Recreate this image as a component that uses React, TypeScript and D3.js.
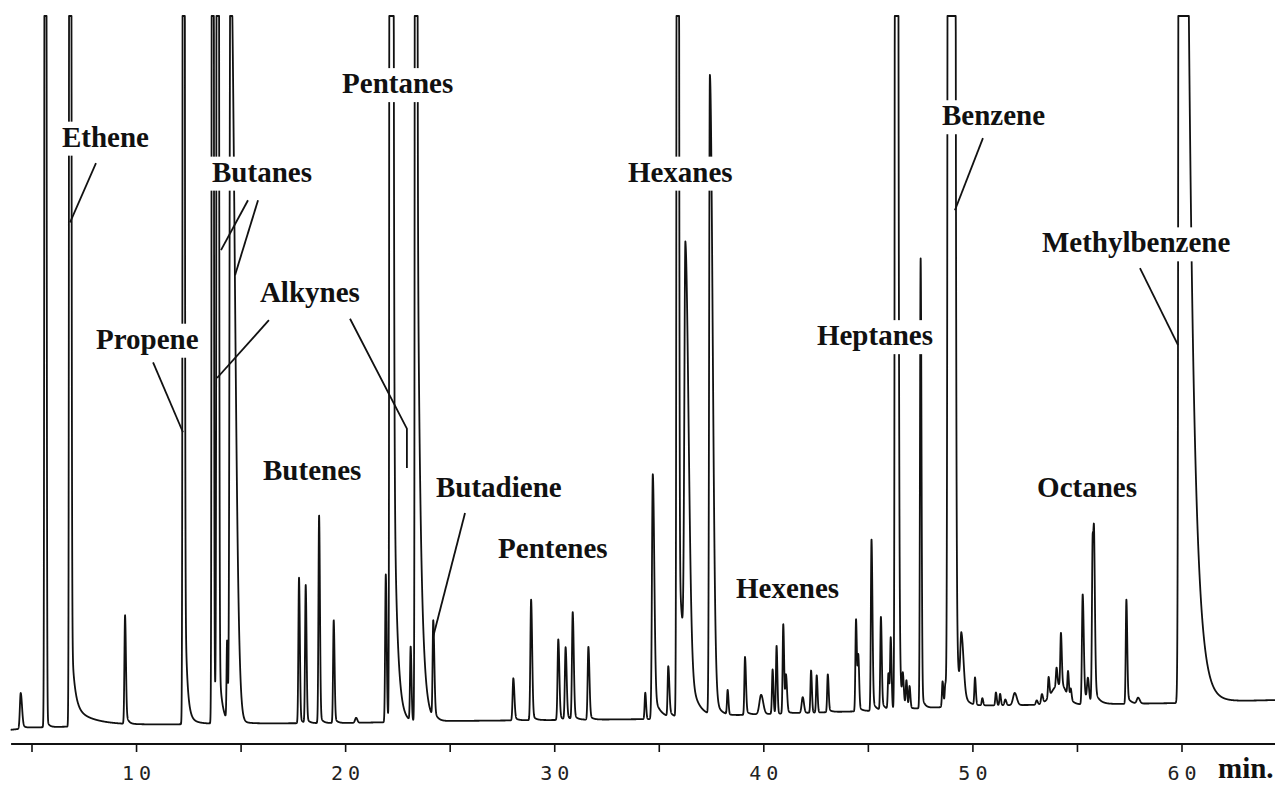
import * as d3 from "d3"
import React, { useEffect, useRef } from "react"

// One peak = [retention time (min), height, front sigma, back sigma, tail amp, tail decay, 2nd tail amp, 2nd tail decay]
// Heights are in detector units above the drifting baseline; 100 is where the recorder clips.
type Peak = number[]

const earlyPeaks: Peak[] = [
    [4.46, 5.0, 0.04, 0.06, 0.8, 0.15],
    [5.64, 400, 0.03, 0.035, 2, 0.1],
    [6.82, 400, 0.03, 0.04, 15, 0.15, 3, 1.0],      // ethene
    [9.45, 15.2, 0.03, 0.04, 2.5, 0.1],
    [12.25, 400, 0.03, 0.035, 33, 0.1, 1.5, 0.4],   // propene
]
const butanePeaks: Peak[] = [
    [13.64, 400, 0.03, 0.035, 10, 0.12],
    [13.88, 400, 0.035, 0.04, 12, 0.15],
    [14.33, 11, 0.025, 0.03],
    [14.49, 110, 0.04, 0.2, 2, 0.3],
]
const butenePeaks: Peak[] = [
    [17.77, 20.4, 0.03, 0.04, 1, 0.12],
    [18.09, 19.3, 0.03, 0.04, 1, 0.12],
    [18.73, 29.1, 0.03, 0.04, 1.5, 0.12],
    [19.43, 14.4, 0.03, 0.04, 1, 0.12],
    [20.5, 0.7, 0.05, 0.06],
]
const pentanePeaks: Peak[] = [
    [21.92, 20.7, 0.03, 0.04, 1.5, 0.1],
    [22.15, 1000, 0.03, 0.065, 100, 0.16],
    [23.11, 10.3, 0.03, 0.04],
    [23.36, 600, 0.03, 0.035, 120, 0.16],
    [24.19, 13.5, 0.03, 0.05, 1.5, 0.15],           // butadiene
]
const pentenePeaks: Peak[] = [
    [28.02, 5.9, 0.035, 0.05, 0.6, 0.15],
    [28.87, 16.9, 0.035, 0.05, 1, 0.15],
    [30.17, 11.3, 0.035, 0.05, 0.8, 0.15],
    [30.52, 10.1, 0.035, 0.05, 0.8, 0.15],
    [30.86, 15.0, 0.035, 0.05, 1, 0.15],
    [31.61, 10.2, 0.035, 0.05, 0.8, 0.15],
]
const hexanePeaks: Peak[] = [
    [34.33, 3.7, 0.03, 0.04],
    [34.69, 34.3, 0.04, 0.07, 4, 0.3],
    [35.43, 7, 0.03, 0.05, 1, 0.2],
    [35.88, 400, 0.035, 0.04, 25, 0.35],
    [36.25, 58, 0.05, 0.15, 4, 0.3],
    [37.42, 89.5, 0.035, 0.13, 6, 0.25],
    [38.27, 3.4, 0.03, 0.04],
]
const hexenePeaks: Peak[] = [
    [39.1, 8.1, 0.03, 0.045, 0.8, 0.15],
    [39.87, 2.7, 0.08, 0.1],
    [40.42, 6.2, 0.03, 0.04],
    [40.61, 9.5, 0.03, 0.04],
    [40.93, 12.5, 0.03, 0.04, 1, 0.15],
    [41.06, 5, 0.03, 0.05],
    [41.86, 2.2, 0.05, 0.06],
    [42.26, 5.9, 0.03, 0.04],
    [42.53, 5.2, 0.03, 0.04],
    [43.06, 5.3, 0.03, 0.04, 0.5, 0.15],
]
const heptanePeaks: Peak[] = [
    [44.41, 12.9, 0.03, 0.04, 1.5, 0.15],
    [44.52, 7, 0.03, 0.04],
    [45.15, 24, 0.03, 0.045, 2, 0.15],
    [45.6, 13, 0.03, 0.04, 1.5, 0.15],
    [45.96, 5, 0.03, 0.04],
    [46.07, 10, 0.03, 0.04],
    [46.32, 400, 0.035, 0.07, 15, 0.15],
    [46.65, 3.5, 0.03, 0.04],
    [46.82, 3.5, 0.03, 0.04],
    [46.97, 3, 0.03, 0.04],
    [47.5, 63, 0.03, 0.04, 3, 0.12],
]
const benzenePeaks: Peak[] = [
    [48.55, 3.6, 0.03, 0.04],
    [48.68, 3, 0.03, 0.04],
    [48.94, 3000, 0.06, 0.09, 30, 0.2],
    [49.45, 8, 0.05, 0.1, 1, 0.2],
    [50.1, 3.8, 0.03, 0.04],
    [50.45, 1, 0.03, 0.04],
    [51.1, 1.8, 0.03, 0.04],
    [51.3, 1.6, 0.03, 0.04],
    [51.55, 0.8, 0.04, 0.05],
    [52.0, 1.7, 0.08, 0.1],
]
const octanePeaks: Peak[] = [
    [53.05, 0.6, 0.04, 0.05],
    [53.3, 1.3, 0.04, 0.05],
    [54.1, 2.8, 0.35, 0.35],
    [53.62, 2.8, 0.03, 0.04],
    [54.0, 2.5, 0.03, 0.04],
    [54.21, 7.4, 0.03, 0.04, 0.8, 0.15],
    [54.55, 3.4, 0.03, 0.04],
    [54.68, 1.5, 0.03, 0.04],
    [55.25, 15.4, 0.035, 0.05, 2, 0.25],
    [55.5, 3, 0.04, 0.05],
    [55.73, 23.5, 0.035, 0.07, 1.5, 0.2],
    [55.8, 9, 0.025, 0.04, 1, 0.2],
    [57.34, 14.6, 0.03, 0.04, 1.5, 0.15],
    [57.9, 0.8, 0.06, 0.08],
]
const methylbenzenePeaks: Peak[] = [
    [59.98, 3000, 0.06, 0.06, 305, 0.3, 1, 1.0],
]

// Baseline drift of the detector over the run.
const driftTimes = [3.9, 5, 10, 15, 20, 25, 30, 35, 40, 45, 50, 55, 60, 64.6]
const driftLevels = [0, 0.35, 0.7, 0.91, 0.98, 1.26, 1.4, 1.54, 2.24, 2.66, 3.43, 3.57, 3.78, 4.2]

// Axis.
const tickTimes = [5, 10, 15, 20, 25, 30, 35, 40, 45, 50, 55, 60]
const tickLabels = [10, 20, 30, 40, 50, 60]

// Compound labels: name, [time, level] of the text's left baseline.
const labelNames = ["Ethene", "Propene", "Butanes", "Alkynes", "Butenes", "Pentanes", "Butadiene",
    "Pentenes", "Hexanes", "Hexenes", "Heptanes", "Benzene", "Methylbenzene", "Octanes"]
const labelAnchors = [[6.43, 81.7], [8.06, 53.4], [13.61, 76.8], [15.9, 59.9], [16.05, 35.0], [19.83, 89.2],
    [24.32, 32.6], [27.29, 24.1], [33.5, 76.8], [38.67, 18.5], [42.54, 53.9], [48.52, 84.7], [53.3, 66.9], [53.07, 32.6]]

// Leader lines from a label to its peak, [time, level] points.
const leaders = [
    [[8.06, 79.4], [6.82, 71.1]],
    [[10.79, 51.5], [12.22, 41.7]],
    [[15.33, 74.2], [14.04, 67.2]],
    [[15.81, 74.2], [14.71, 63.7]],
    [[16.33, 57.4], [13.85, 49.3]],
    [[20.21, 57.6], [22.93, 42.2], [22.93, 36.7]],
    [[25.71, 30.4], [24.18, 13.0]],
    [[50.48, 82.9], [49.14, 72.8]],
    [[57.99, 64.7], [59.81, 53.9]],
]

const allPeaks = [...earlyPeaks, ...butanePeaks, ...butenePeaks, ...pentanePeaks, ...pentenePeaks,
    ...hexanePeaks, ...hexenePeaks, ...heptanePeaks, ...benzenePeaks, ...octanePeaks, ...methylbenzenePeaks]

const labelFont = "'Liberation Serif', 'Times New Roman', serif"

const peakSignal = (p: Peak, t: number) => {
    /** Gaussian core with different front/back widths, plus exponential tailing. */
    const [t0, h, sL, sR, a = 0, tau = 1, a2 = 0, tau2 = 1] = p
    const d = t - t0
    const g = Math.exp(-0.5 * (d / (d < 0 ? sL : sR)) ** 2)
    if (d <= 0) return h * g
    return h * g + (1 - g) * (a * Math.exp(-d / tau) + a2 * Math.exp(-d / tau2))
}

const Chromatogram = () => {
    const refSvg = useRef<SVGSVGElement>(null)

    useEffect(() => {
        const svg = d3.select(refSvg.current)
        svg.selectAll("*").remove()

        const x = d3.scaleLinear().domain([5, 60]).range([32, 1182])
        const y = d3.scaleLinear().domain([0, 100]).range([730, 16])
        const drift = d3.scaleLinear().domain(driftTimes).range(driftLevels)

        // The trace, clipped at the top like the recorder.
        const times = d3.range(3.98, 64.45, 0.004)
        const trace = times.map(t => [t, Math.min(100, drift(t) + d3.sum(allPeaks, p => peakSignal(p, t)))])
        const line = d3.line<number[]>().x(d => x(d[0])).y(d => y(d[1]))

        svg.append("path")
            .attr("d", line(trace))
            .attr("fill", "none")
            .attr("stroke", "#111")
            .attr("stroke-width", 1.8)
            .attr("stroke-linejoin", "round")

        // Leader lines.
        svg.selectAll(".leader")
            .data(leaders)
            .join("path")
            .attr("class", "leader")
            .attr("d", d => line(d))
            .attr("fill", "none")
            .attr("stroke", "#111")
            .attr("stroke-width", 1.8)

        // Labels on white boxes that cut through the peaks.
        const gLabels = svg.selectAll(".label")
            .data(labelNames)
            .join("g")
            .attr("class", "label")
        gLabels.append("rect").attr("fill", "#fff")
        gLabels.append("text")
            .attr("x", (d, i) => x(labelAnchors[i][0]))
            .attr("y", (d, i) => y(labelAnchors[i][1]))
            .attr("font-family", labelFont)
            .attr("font-weight", "bold")
            .attr("font-size", 29)
            .attr("fill", "#111")
            .text(d => d)
        gLabels.each(function () {
            const g = d3.select(this)
            const box = (g.select("text").node() as SVGTextElement).getBBox()
            const base = Number(g.select("text").attr("y"))
            g.select("rect")
                .attr("x", box.x - 4)
                .attr("y", base - 25)
                .attr("width", box.width + 8)
                .attr("height", 34)
        })

        // Time axis.
        const gAxis = svg.append("g")
        gAxis.append("line")
            .attr("x1", x(4)).attr("x2", x(64.5))
            .attr("y1", 744).attr("y2", 744)
            .attr("stroke", "#111").attr("stroke-width", 2)
        gAxis.selectAll(".tick")
            .data(tickTimes)
            .join("line")
            .attr("class", "tick")
            .attr("x1", d => x(d)).attr("x2", d => x(d))
            .attr("y1", 744).attr("y2", 752)
            .attr("stroke", "#111").attr("stroke-width", 1.6)
        gAxis.selectAll(".tick-label")
            .data(tickLabels)
            .join("text")
            .attr("class", "tick-label")
            .attr("x", d => x(d) + 2.5)
            .attr("y", 780)
            .attr("text-anchor", "middle")
            .attr("font-family", "'DejaVu Sans Mono', monospace")
            .attr("font-size", 20)
            .attr("letter-spacing", 5)
            .attr("fill", "#222")
            .text(d => d)
        gAxis.append("text")
            .attr("x", 1218)
            .attr("y", 778)
            .attr("font-family", labelFont)
            .attr("font-weight", "bold")
            .attr("font-size", 29)
            .attr("fill", "#111")
            .text("min.")
    }, [])

    return (
        <svg ref={refSvg} width={1275} height={785}
            style={{ position: "absolute", left: 0, top: 0, background: "#fff", display: "block" }} />
    )
}

export default function App() {
    return <Chromatogram />
}
